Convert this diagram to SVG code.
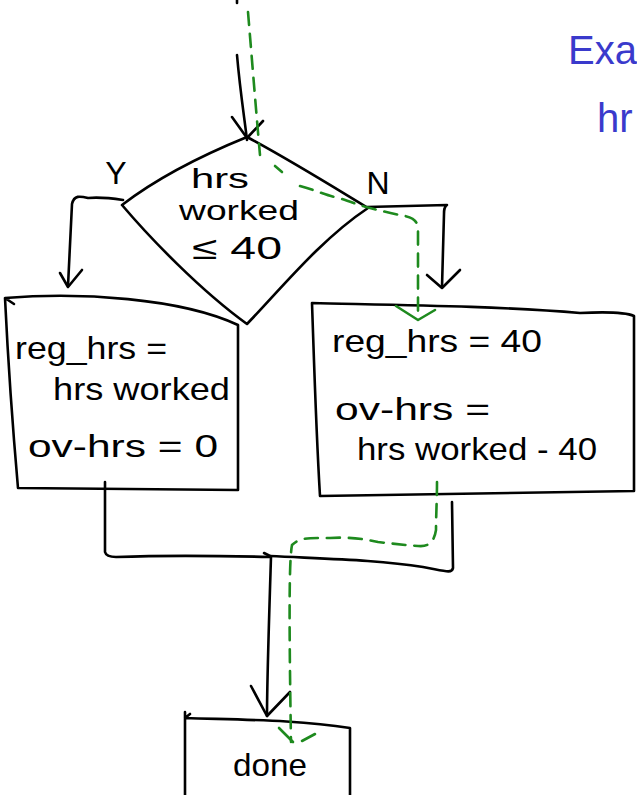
<svg xmlns="http://www.w3.org/2000/svg" width="637" height="795" viewBox="0 0 637 795">
<style>
.ink{fill:none;stroke:#000;stroke-width:2.6;stroke-linecap:round;stroke-linejoin:round}
.trace{fill:none;stroke:#1e8a1e;stroke-width:2.6;stroke-linecap:round;stroke-linejoin:round}
.dash{stroke-dasharray:13 9}
.t{font-family:"Liberation Sans",Arial,sans-serif;font-size:32px;fill:#000}
.s{font-size:28px}
.blue{font-family:"Liberation Sans",Arial,sans-serif;font-size:40px;fill:#3a3acc}
</style>
<rect width="637" height="795" fill="#fff"/>

<g id="annotation">
<text class="blue" x="568" y="64">Exa</text>
<text class="blue" x="597" y="132">hr</text>
</g>

<g id="decision">
<path class="ink" d="M247,137 C215,150 165,172 122,205 C150,238 200,290 247,324 C280,290 320,240 368,208 C330,185 290,160 247,137 Z"/>
<text class="t s" x="220" y="188" text-anchor="middle" textLength="58" lengthAdjust="spacingAndGlyphs">hrs</text>
<text class="t s" x="239" y="220" text-anchor="middle" textLength="120" lengthAdjust="spacingAndGlyphs">worked</text>
<text class="t" x="237" y="259" text-anchor="middle" textLength="90" lengthAdjust="spacingAndGlyphs">≤ 40</text>
</g>

<g id="label-y"><text class="t" x="116" y="184" text-anchor="middle">Y</text></g>
<g id="label-n"><text class="t" x="378" y="194" text-anchor="middle">N</text></g>

<g id="box-yes">
<path class="ink" d="M5,298 C80,292 180,298 238,325 L238,490 L18,488 C12,420 8,360 5,298 Z M5,298 L14,304"/>
<text class="t" x="15" y="359" textLength="152" lengthAdjust="spacingAndGlyphs">reg_hrs =</text>
<text class="t" x="53" y="400" textLength="177" lengthAdjust="spacingAndGlyphs">hrs worked</text>
<text class="t" x="28" y="457" textLength="190" lengthAdjust="spacingAndGlyphs">ov-hrs = 0</text>
</g>

<g id="box-no">
<path class="ink" d="M312,303 C400,305 500,306 580,313 C600,312 625,312 634,316 L634,491 L320,496 C316,430 314,360 312,303 Z"/>
<text class="t" x="332" y="352" textLength="210" lengthAdjust="spacingAndGlyphs">reg_hrs = 40</text>
<text class="t" x="335" y="420" textLength="155" lengthAdjust="spacingAndGlyphs">ov-hrs =</text>
<text class="t" x="357" y="460" textLength="240" lengthAdjust="spacingAndGlyphs">hrs worked - 40</text>
</g>

<g id="done">
<path class="ink" d="M185,718 C250,720 300,720 350,728 L350,795 M185,712 L185,795 M185,718 L190,714"/>
<text class="t" x="270" y="776" text-anchor="middle" textLength="74" lengthAdjust="spacingAndGlyphs">done</text>
</g>

<g id="connectors">
<path class="ink" d="M237,0 L237,3"/>
<path class="ink" d="M237,55 C240,90 244,115 247,140"/>
<path class="ink" d="M232,117 L247,138 L263,121"/>
<path class="ink" d="M123,200 C110,198 98,197 88,198 C80,196 74,195 72,204 L68,286"/>
<path class="ink" d="M60,273 L68,287 L82,270"/>
<path class="ink" d="M367,207 L447,205 C444,207 444,210 444,214 L442,287"/>
<path class="ink" d="M427,275 L442,288 L460,270"/>
<path class="ink" d="M105,482 L105,552 C106,556 110,557 116,557 C170,555 230,556 270,557"/>
<path class="ink" d="M452,502 L453,568 C452,574 445,571 423,567 C380,560 330,559 270,556"/>
<path class="ink" d="M264,553 L270,556"/>
<path class="ink" d="M271,557 C269,620 267,680 267,716"/>
<path class="ink" d="M251,686 L267,716 L290,692"/>
</g>

<g id="trace">
<path class="trace dash" d="M248,12 C252,60 256,110 260,155"/>
<path class="trace" d="M275,166 L282,172"/>
<path class="trace dash" d="M300,186 C315,190 325,195 335,197 C350,201 360,206 370,208 C385,212 395,214 405,216 C415,218 418,222 418,232 L418,316"/>
<path class="trace" d="M396,306 L418,320 L435,310"/>
<path class="trace dash" d="M437,482 C437,500 436,515 436,530 C434,543 428,547 418,546 C405,545 395,544 378,542 C360,538 345,537 330,538 C310,538 300,537 292,545 C289,560 289,620 291,742"/>
<path class="trace" d="M279,728 L293,742 M302,741 L315,734"/>
</g>
</svg>
